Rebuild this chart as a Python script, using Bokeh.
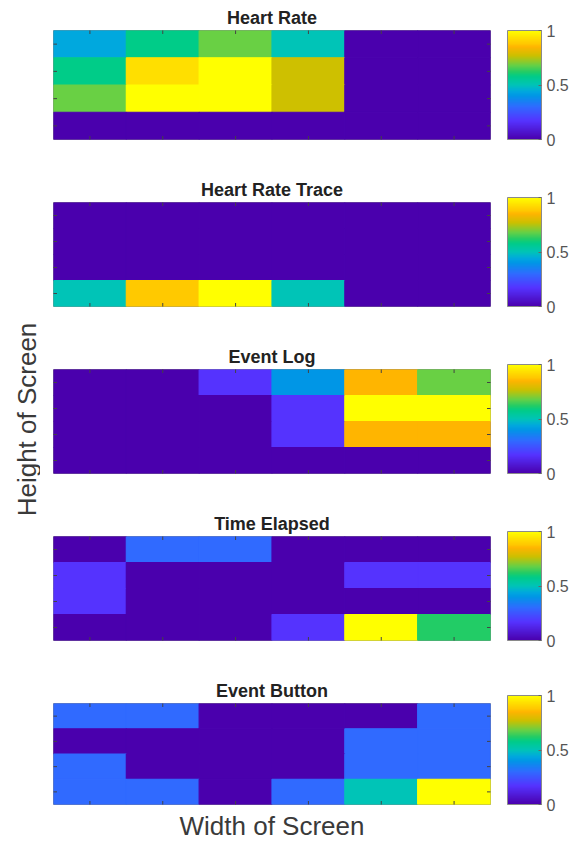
import numpy as np
from bokeh.plotting import figure
from bokeh.models import (ColumnDataSource, LinearColorMapper, ColorBar, FixedTicker,
                          Range1d, Label, Title)
from bokeh.layouts import row, column
from bokeh.embed import file_html
from bokeh.resources import INLINE

# ---------------- data ----------------
titles = ["Heart Rate", "Heart Rate Trace", "Event Log", "Time Elapsed", "Event Button"]

# rows listed from top of screen to bottom, 6 columns each
heart_rate = [
    [0.44, 0.58, 0.68, 0.50, 0.00, 0.00],
    [0.58, 0.93, 1.00, 0.77, 0.00, 0.00],
    [0.68, 1.00, 1.00, 0.77, 0.00, 0.00],
    [0.00, 0.00, 0.00, 0.00, 0.00, 0.00],
]
heart_rate_trace = [
    [0.00, 0.00, 0.00, 0.00, 0.00, 0.00],
    [0.00, 0.00, 0.00, 0.00, 0.00, 0.00],
    [0.00, 0.00, 0.00, 0.00, 0.00, 0.00],
    [0.50, 0.88, 1.00, 0.50, 0.00, 0.00],
]
event_log = [
    [0.00, 0.00, 0.17, 0.40, 0.85, 0.68],
    [0.00, 0.00, 0.00, 0.17, 1.00, 1.00],
    [0.00, 0.00, 0.00, 0.17, 0.85, 0.85],
    [0.00, 0.00, 0.00, 0.00, 0.00, 0.00],
]
time_elapsed = [
    [0.00, 0.30, 0.30, 0.00, 0.00, 0.00],
    [0.17, 0.00, 0.00, 0.00, 0.17, 0.17],
    [0.17, 0.00, 0.00, 0.00, 0.00, 0.00],
    [0.00, 0.00, 0.00, 0.17, 1.00, 0.62],
]
event_button = [
    [0.30, 0.30, 0.00, 0.00, 0.00, 0.30],
    [0.00, 0.00, 0.00, 0.00, 0.30, 0.30],
    [0.30, 0.00, 0.00, 0.00, 0.30, 0.30],
    [0.30, 0.30, 0.00, 0.30, 0.50, 1.00],
]
grids = [heart_rate, heart_rate_trace, event_log, time_elapsed, event_button]

cb_ticks = [0, 0.5, 1]
cb_labels = ["0", "0.5", "1"]
x_label = "Width of Screen"
y_label = "Height of Screen"

# ---------------- colormap (parula-like) ----------------
anchor_pos = [0.00, 0.17, 0.30, 0.40, 0.44, 0.50, 0.58, 0.62, 0.68, 0.77, 0.85, 0.88, 0.93, 1.00]
anchor_hex = ["#4A00AD", "#5533FF", "#2F6BFF", "#0096E6", "#00A8DE", "#00C4B8", "#00CC88",
              "#22CC66", "#66D046", "#CCC000", "#FFB400", "#FFC800", "#FFDD00", "#FFFF00"]


def build_palette(n=256):
    rgb = np.array([[int(h[i:i + 2], 16) for i in (1, 3, 5)] for h in anchor_hex], dtype=float)
    t = np.linspace(0, 1, n)
    out = []
    for ti in t:
        c = [np.interp(ti, anchor_pos, rgb[:, k]) for k in range(3)]
        out.append("#%02x%02x%02x" % tuple(int(round(v)) for v in c))
    return out


palette = build_palette()
FONT = "Liberation Sans"

LEFT_W = 40
PANEL_W = 531
FRAME_H = 109


def make_panel(i, title, grid):
    first = i == 0
    last = i == len(grids) - 1
    nrows, ncols = len(grid), len(grid[0])
    xs, ys, vs = [], [], []
    for r, rv in enumerate(grid):
        for c, v in enumerate(rv):
            xs.append(c + 1)
            ys.append(nrows - r)
            vs.append(v)
    src = ColumnDataSource(dict(x=xs, y=ys, v=vs))
    mapper = LinearColorMapper(palette=palette, low=0, high=1)
    top_b = 30 if first else 22
    bot_b = 38 if last else 36
    p = figure(width=PANEL_W, height=top_b + FRAME_H + bot_b,
               x_range=Range1d(0.5, ncols + 0.5), y_range=Range1d(0.5, nrows + 0.5),
               toolbar_location=None, output_backend="svg",
               min_border_left=13, min_border_right=79,
               min_border_top=top_b, min_border_bottom=bot_b,
               x_axis_location=None, y_axis_location=None)
    p.title.text = title
    p.title.text_font = FONT
    p.title.text_font_size = "18px"
    p.title.text_font_style = "bold"
    p.title.text_color = "#222222"
    p.title.align = "center"
    p.title.standoff = 5
    if first:
        p.title.offset = -21
    p.rect(x="x", y="y", width=1, height=1, source=src,
           fill_color={"field": "v", "transform": mapper},
           line_color={"field": "v", "transform": mapper}, line_width=1.2)
    p.grid.visible = False
    p.outline_line_color = "#8a8a8a"
    p.background_fill_color = "white"

    # small inward tick marks on all four frame edges (at cell centres)
    cols = list(range(1, ncols + 1))
    rows_ = list(range(1, nrows + 1))
    tick_x = cols + cols
    tick_y = [0.5] * ncols + [nrows + 0.5] * ncols
    p.scatter(x=tick_x, y=tick_y, marker="dash", angle=np.pi / 2, size=7,
              line_color="#444444", line_width=1)
    tick_x2 = [0.5] * nrows + [ncols + 0.5] * nrows
    tick_y2 = rows_ + rows_
    p.scatter(x=tick_x2, y=tick_y2, marker="dash", size=7,
              line_color="#444444", line_width=1)

    if last:
        p.add_layout(Title(text=x_label, align="center", text_font=FONT,
                           text_font_size="26px", text_font_style="normal",
                           text_color="#3a3a3a", standoff=9), "below")

    cb = ColorBar(color_mapper=mapper, ticker=FixedTicker(ticks=cb_ticks),
                  major_label_overrides={0: cb_labels[0], 0.5: cb_labels[1], 1: cb_labels[2]},
                  width=34, height=FRAME_H, margin=0, padding=0, location=(17, 0),
                  label_standoff=5, major_label_text_font=FONT,
                  major_label_text_font_size="16px", major_label_text_color="#555555",
                  major_tick_in=3, major_tick_out=0, major_tick_line_color="#666666",
                  minor_tick_line_color=None, bar_line_color="#8a8a8a",
                  border_line_color=None, background_fill_alpha=0)
    p.add_layout(cb, "right")
    return p


panels = [make_panel(i, t, g) for i, (t, g) in enumerate(zip(titles, grids))]
total_h = sum(pp.height for pp in panels)

left = figure(width=LEFT_W, height=total_h, x_range=Range1d(0, 1), y_range=Range1d(0, 1),
              toolbar_location=None, output_backend="svg", min_border=0,
              x_axis_location=None, y_axis_location=None)
left.grid.visible = False
left.outline_line_color = None
left.add_layout(Label(x=26, y=total_h - 419, x_units="screen", y_units="screen",
                      text=y_label, angle=np.pi / 2, text_align="center",
                      text_baseline="middle", text_font=FONT, text_font_size="26px",
                      text_color="#3a3a3a"))

layout = row(left, column(*panels, spacing=0), spacing=0)
open("out.html", "w").write(file_html(layout, INLINE))
